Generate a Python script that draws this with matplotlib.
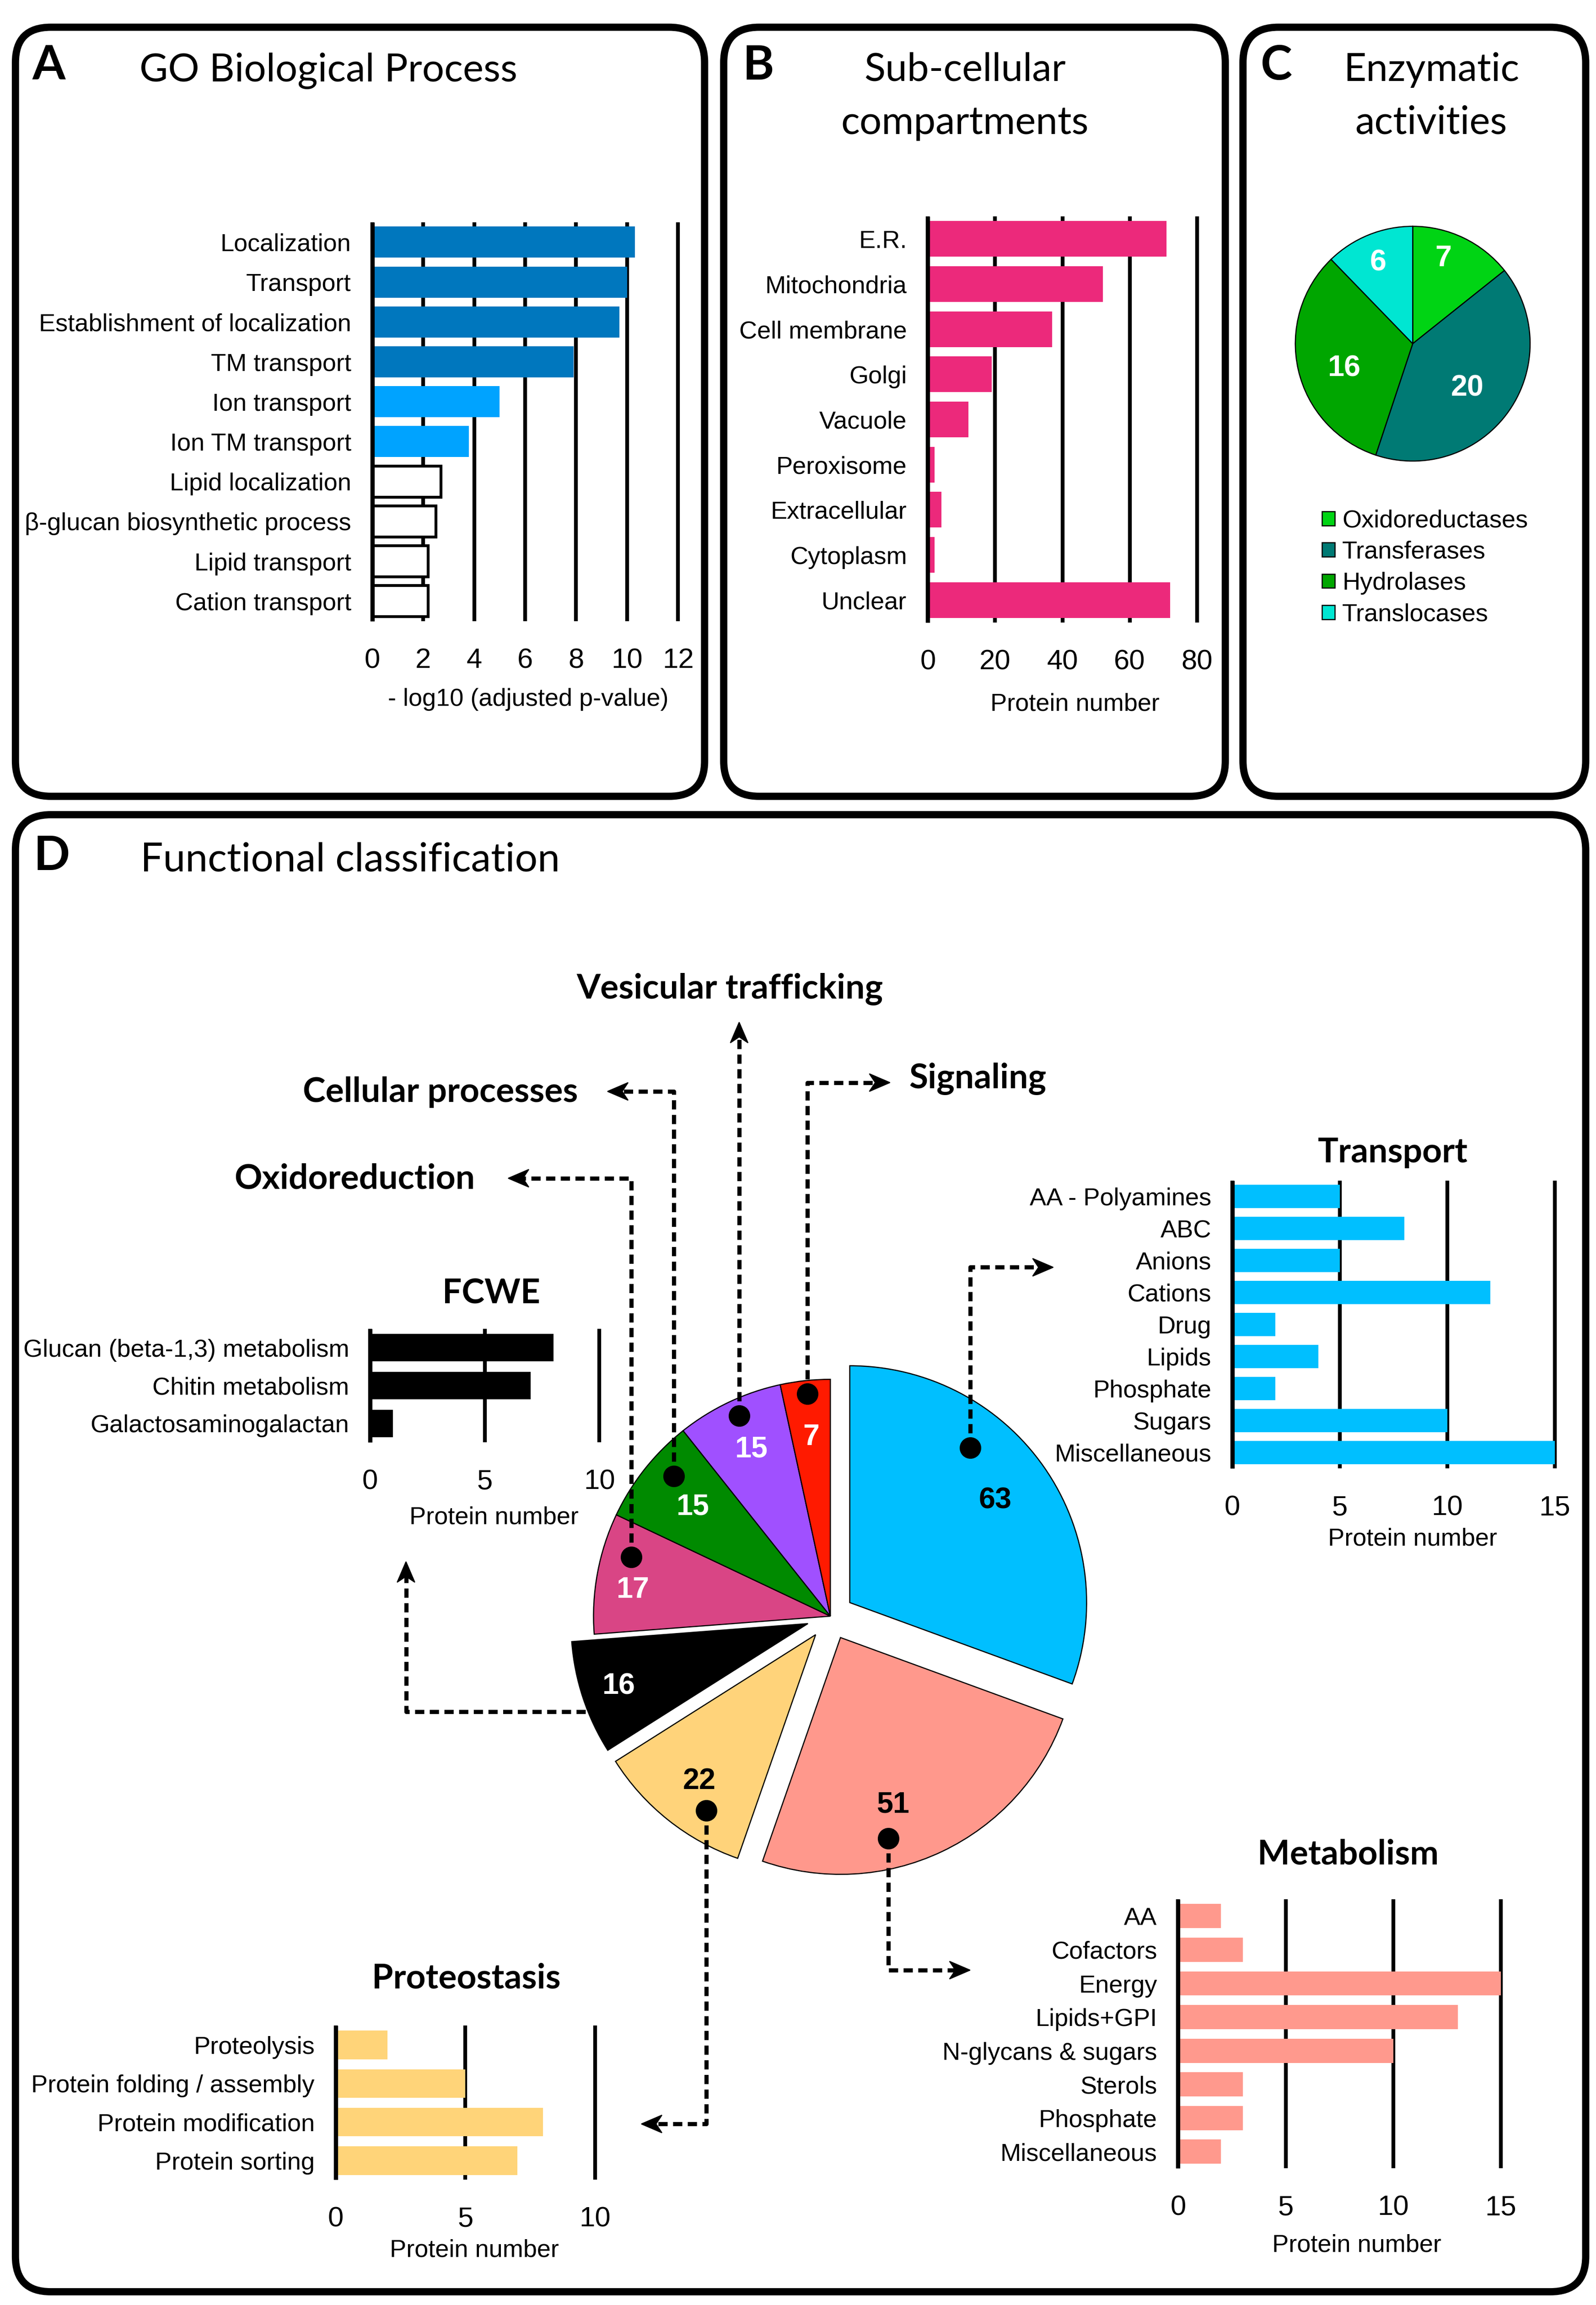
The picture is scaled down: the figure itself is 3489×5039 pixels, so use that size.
import numpy as np
import matplotlib
matplotlib.use('Agg')
import matplotlib.pyplot as plt
from matplotlib import font_manager
from matplotlib.patches import FancyBboxPatch, Polygon

# layout grid (the page measured at ~1/3.2 scale)
W, H = 1085.0, 1566.0

# ---------------- data ----------------
go_terms = ['Localization', 'Transport', 'Establishment of localization', 'TM transport',
            'Ion transport', 'Ion TM transport', 'Lipid localization',
            'β-glucan biosynthetic process', 'Lipid transport', 'Cation transport']
go_scores = [10.3, 10.0, 9.7, 7.9, 5.0, 3.8, 2.7, 2.5, 2.2, 2.2]
go_groups = ['dark'] * 4 + ['light'] * 2 + ['other'] * 4

compartments = ['E.R.', 'Mitochondria', 'Cell membrane', 'Golgi', 'Vacuole',
                'Peroxisome', 'Extracellular', 'Cytoplasm', 'Unclear']
compartment_counts = [71, 52, 37, 19, 12, 2, 4, 2, 72]

enzyme_classes = ['Oxidoreductases', 'Transferases', 'Hydrolases', 'Translocases']
enzyme_counts = [7, 20, 16, 6]

func_classes = ['Transport', 'Metabolism', 'Proteostasis', 'FCWE', 'Oxidoreduction',
                'Cellular processes', 'Vesicular trafficking', 'Signaling']
func_counts = [63, 51, 22, 16, 17, 15, 15, 7]

transport_types = ['AA - Polyamines', 'ABC', 'Anions', 'Cations', 'Drug', 'Lipids',
                   'Phosphate', 'Sugars', 'Miscellaneous']
transport_counts = [5, 8, 5, 12, 2, 4, 2, 10, 15]

metab_types = ['AA', 'Cofactors', 'Energy', 'Lipids+GPI', 'N-glycans & sugars',
               'Sterols', 'Phosphate', 'Miscellaneous']
metab_counts = [2, 3, 15, 13, 10, 3, 3, 2]

proteo_types = ['Proteolysis', 'Protein folding / assembly', 'Protein modification',
                'Protein sorting']
proteo_counts = [2, 5, 8, 7]

fcwe_types = ['Glucan (beta-1,3) metabolism', 'Chitin metabolism', 'Galactosaminogalactan']
fcwe_counts = [8, 7, 1]

# ---------------- styles ----------------
go_palette = {'dark': '#0077BE', 'light': '#00A3FF', 'other': 'white'}
enzyme_colors = ['#00D414', '#007A74', '#00A600', '#00E6D2']
func_colors = ['#00BFFF', '#FF988C', '#FFD37A', '#000000', '#D94585', '#008A00',
               '#A050FF', '#FF1A00']
func_explode = [0.1, 0.1, 0.1, 0.1, 0, 0, 0, 0]
func_text = ['k', 'k', 'k', 'w', 'w', 'w', 'w', 'w']
# label placement inside the slices: radius fraction and angular nudge (deg)
func_label_r = [0.75, 0.74, 0.79, 0.84, 0.84, 0.74, 0.78, 0.76]
func_label_da = [0, -8, 0, 0, 3, 0, 0, 0]
enzyme_label_r = [0.77, 0.6, 0.62, 0.75]
enzyme_label_da = [6, -4, 7, 1]

installed = {f.name for f in font_manager.fontManager.ttflist}
ARIAL = ['Liberation Sans', 'DejaVu Sans']
TITLE = 'Lato' if 'Lato' in installed else 'DejaVu Sans'

fig = plt.figure(figsize=(3489 / 300, 5039 / 300), dpi=300)


def box(x0, y0, x1, y1):
    return fig.add_axes([x0 / W, 1 - y1 / H, (x1 - x0) / W, (y1 - y0) / H])


def bar_panel(rect, names, counts, colors, xmax, step, height, xlabel, lx, lpad,
              edges='none'):
    ax = box(*rect)
    y = np.arange(len(names))
    ax.barh(y, counts, height=height, color=colors, edgecolor=edges, linewidth=1.5,
            zorder=2)
    ticks = np.arange(0, xmax + 0.001, step)
    ax.vlines(ticks, -0.5, len(names) - 0.5, color='k', lw=2.0, zorder=1, clip_on=False)
    ax.vlines(0, -0.5, len(names) - 0.5, color='k', lw=2.2, zorder=3, clip_on=False)
    ax.set_xlim(0, xmax)
    ax.set_ylim(len(names) - 0.5, -0.5)
    ax.set_xticks(ticks, [f'{t:g}' for t in ticks], fontsize=14.8, family=ARIAL)
    ax.set_yticks(y, names, fontsize=13, family=ARIAL)
    ax.tick_params(length=0)
    ax.tick_params(axis='x', pad=14)
    ax.tick_params(axis='y', pad=11)
    for s in ax.spines.values():
        s.set_visible(False)
    ax.patch.set_alpha(0)
    ax.set_xlabel(xlabel, fontsize=13, family=ARIAL, labelpad=lpad)
    ax.xaxis.label.set_x(lx)
    return ax


def pie_labels(ax, wedges, values, radii, nudges, colors, size):
    for w, v, r, da, c in zip(wedges, values, radii, nudges, colors):
        a = np.deg2rad((w.theta1 + w.theta2) / 2 + da)
        ax.text(w.center[0] + r * np.cos(a), w.center[1] + r * np.sin(a), str(v),
                ha='center', va='center', color=c, fontsize=size, fontweight='bold',
                family=ARIAL)


# ---- A: GO biological process
bar_panel((253, 151, 461, 422), go_terms, go_scores, [go_palette[g] for g in go_groups],
          12, 2, 0.78, '- log10 (adjusted p-value)', 0.51, 7.3,
          edges=['none' if g != 'other' else 'k' for g in go_groups])

# ---- B: sub-cellular compartments
bar_panel((630.8, 147, 813.7, 423), compartments, compartment_counts, '#EC297B',
          80, 20, 0.79, 'Protein number', 0.546, 9.2)

# ---- C: enzymatic activities
R_c, cx_c, cy_c = 79.8, 960.4, 233.5
ax_c = box(cx_c - 1.3 * R_c, cy_c - 1.3 * R_c, cx_c + 1.3 * R_c, cy_c + 1.3 * R_c)
wedges_c, _ = ax_c.pie(enzyme_counts, colors=enzyme_colors, startangle=90,
                       counterclock=False,
                       wedgeprops=dict(edgecolor='k', linewidth=0.6))
ax_c.set_xlim(-1.3, 1.3)
ax_c.set_ylim(-1.3, 1.3)
pie_labels(ax_c, wedges_c, enzyme_counts, enzyme_label_r, enzyme_label_da,
           ['white'] * 4, 15.5)
ax_c.legend(wedges_c, enzyme_classes, loc='upper left',
            bbox_to_anchor=(898.6 / W, 1 - 346 / H), bbox_transform=fig.transFigure,
            frameon=False, prop=dict(family=ARIAL, size=13), handlelength=0.52,
            handleheight=0.5, handletextpad=0.3, labelspacing=0.34, borderpad=0,
            borderaxespad=0)

# ---- D: functional classification pie
R_d, cx_d, cy_d = 161, 564.5, 1098
ax_d = box(cx_d - 1.3 * R_d, cy_d - 1.3 * R_d, cx_d + 1.3 * R_d, cy_d + 1.3 * R_d)
wedges_d, _ = ax_d.pie(func_counts, colors=func_colors, startangle=90,
                       counterclock=False, explode=func_explode,
                       wedgeprops=dict(edgecolor='k', linewidth=0.6))
ax_d.set_xlim(-1.3, 1.3)
ax_d.set_ylim(-1.3, 1.3)
pie_labels(ax_d, wedges_d, func_counts, func_label_r, func_label_da, func_text, 15.5)

# ---- D: detail bar charts
bar_panel((837.8, 802, 1056.9, 997.6), transport_types, transport_counts, '#00BFFF',
          15, 5, 0.73, 'Protein number', 0.559, 3.3)
bar_panel((800.9, 1290.4, 1020.3, 1473.2), metab_types, metab_counts, '#FF998D',
          15, 5, 0.72, 'Protein number', 0.553, 6.6)
bar_panel((228.2, 1376.2, 404.5, 1481), proteo_types, proteo_counts, '#FFD479',
          10, 5, 0.74, 'Protein number', 0.535, 3.3)
bar_panel((251.6, 902.7, 407.5, 980), fcwe_types, fcwe_counts, 'black',
          10, 5, 0.73, 'Protein number', 0.54, 5.6)

# ---------------- overlay: frames, titles, connectors ----------------
ov = fig.add_axes([0, 0, 1, 1], zorder=10)
ov.set_xlim(0, W)
ov.set_ylim(H, 0)
ov.axis('off')

for x0, y0, x1, y1 in [(10.5, 18.5, 479, 541), (492, 18.5, 833, 541),
                       (845, 18.5, 1078, 541), (10.5, 553.5, 1078, 1557)]:
    ov.add_patch(FancyBboxPatch((x0, y0), x1 - x0, y1 - y0,
                                boxstyle='round,pad=0,rounding_size=24',
                                fill=False, lw=3.8, ec='k'))

letter = dict(fontsize=25, fontweight='bold', family=TITLE, va='baseline')
head = dict(fontsize=20.5, family=TITLE, va='baseline')
ov.text(22, 54, 'A', **letter)
ov.text(95, 55, 'GO Biological Process', **head)
ov.text(505, 54, 'B', **letter)
ov.text(656, 55, 'Sub-cellular', ha='center', **head)
ov.text(656, 91, 'compartments', ha='center', **head)
ov.text(857, 54, 'C', **letter)
ov.text(973, 55, 'Enzymatic', ha='center', **head)
ov.text(973, 91, 'activities', ha='center', **head)
ov.text(23, 591, 'D', **letter)
ov.text(95.5, 592, 'Functional classification', fontsize=21, family=TITLE,
        va='baseline')

sub = dict(fontsize=18, fontweight='bold', family=TITLE, va='center')
ov.text(496, 672, 'Vesicular trafficking', ha='center', **sub)
ov.text(393, 742, 'Cellular processes', ha='right', **sub)
ov.text(618, 733, 'Signaling', ha='left', **sub)
ov.text(323, 801, 'Oxidoreduction', ha='right', **sub)
ov.text(947, 783, 'Transport', ha='center', **sub)
ov.text(334, 879, 'FCWE', ha='center', **sub)
ov.text(916.5, 1260, 'Metabolism', ha='center', **sub)
ov.text(317, 1344, 'Proteostasis', ha='center', **sub)


def stealth(tip, direction, length=14.0, half=6.0, notch=4.0):
    d = np.asarray(direction, float)
    d = d / np.linalg.norm(d)
    n = np.array([-d[1], d[0]])
    t = np.asarray(tip, float)
    pts = [t, t - length * d + half * n, t - (length - notch) * d, t - length * d - half * n]
    ov.add_patch(Polygon(pts, closed=True, fc='k', ec='k', lw=0.5))
    return t - (length - notch) * d


links = [
    ([(659.5, 983.5), (659.5, 861), (716, 861)], True),
    ([(549, 947), (549, 735.5), (605, 735.5)], True),
    ([(502.5, 962), (502.5, 694.5)], True),
    ([(458, 1003), (458, 741.5), (413, 741.5)], True),
    ([(429, 1058), (429, 800.5), (345.5, 800.5)], True),
    ([(398, 1163), (276, 1163), (276, 1061)], False),
    ([(480, 1230), (480, 1443), (436, 1443)], True),
    ([(604, 1249), (604, 1338.5), (659.5, 1338.5)], True),
]
for pts, dot in links:
    pts = np.array(pts, float)
    base = stealth(pts[-1], pts[-1] - pts[-2])
    line = np.vstack([pts[:-1], base])
    ov.plot(line[:, 0], line[:, 1], color='k', lw=2.2, ls=(0, (2.2, 1.3)),
            dash_capstyle='butt')
    if dot:
        ov.plot(pts[0][0], pts[0][1], 'o', ms=10.3, color='k')

fig.savefig('out.png', dpi=300, facecolor='white')
